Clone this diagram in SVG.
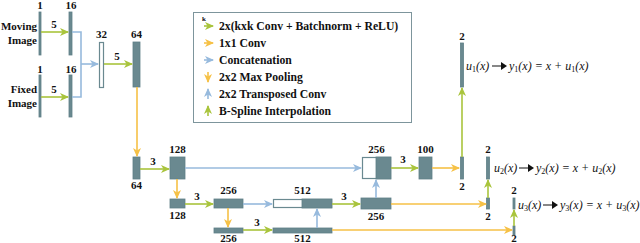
<svg xmlns="http://www.w3.org/2000/svg" width="640" height="243" viewBox="0 0 640 243">
<style>
.t{font-family:"Liberation Serif","DejaVu Serif",serif;font-weight:bold;font-size:11px;fill:#111;text-anchor:middle}
.l{font-family:"Liberation Serif","DejaVu Serif",serif;font-weight:bold;font-size:11.7px;fill:#111}
.k{font-family:"Liberation Serif","DejaVu Serif",serif;font-weight:bold;font-size:7px;fill:#111}
.side{font-family:"Liberation Serif","DejaVu Serif",serif;font-weight:bold;font-size:11px;fill:#111;text-anchor:end}
.f{font-family:"Liberation Serif","DejaVu Serif",serif;font-style:italic;font-size:12px;fill:#111}
.s{font-size:8px;font-style:normal}
.bar{fill:#6a8990;stroke:#5f7f87;stroke-width:0.8}
.open{fill:#fff;stroke:#6a8990;stroke-width:1.2}
.g{stroke:#a9c43c;stroke-width:1.6;fill:none}
.y{stroke:#f6c146;stroke-width:1.6;fill:none}
.b{stroke:#97badd;stroke-width:1.6;fill:none}
</style>
<defs>
<marker id="ag" markerUnits="userSpaceOnUse" markerWidth="9" markerHeight="8" refX="8" refY="4" orient="auto"><path d="M0,0 L9,4 L0,8 L2.5,4 Z" fill="#a9c43c"/></marker>
<marker id="ay" markerUnits="userSpaceOnUse" markerWidth="9" markerHeight="8" refX="8" refY="4" orient="auto"><path d="M0,0 L9,4 L0,8 L2.5,4 Z" fill="#f6c146"/></marker>
<marker id="ab" markerUnits="userSpaceOnUse" markerWidth="9" markerHeight="8" refX="8" refY="4" orient="auto"><path d="M0,0 L9,4 L0,8 L2.5,4 Z" fill="#97badd"/></marker>
</defs>

<g id="legend">
<rect x="193.5" y="12.5" width="218" height="110" fill="#fff" stroke="#7d959c" stroke-width="1"/>
<text class="k" x="202" y="21">k</text>
<line x1="204" y1="26" x2="213" y2="26" class="g" marker-end="url(#ag)"/>
<line x1="204" y1="43" x2="213" y2="43" class="y" marker-end="url(#ay)"/>
<line x1="204" y1="60" x2="213" y2="60" class="b" marker-end="url(#ab)"/>
<line x1="208" y1="72" x2="208" y2="82" class="y" marker-end="url(#ay)"/>
<line x1="208" y1="99" x2="208" y2="89" class="b" marker-end="url(#ab)"/>
<line x1="208" y1="116" x2="208" y2="106" class="g" marker-end="url(#ag)"/>
<text class="l" x="219" y="30">2x(kxk Conv + Batchnorm + ReLU)</text>
<text class="l" x="219" y="47">1x1 Conv</text>
<text class="l" x="219" y="64">Concatenation</text>
<text class="l" x="219" y="81">2x2 Max Pooling</text>
<text class="l" x="219" y="98">2x2 Transposed Conv</text>
<text class="l" x="219" y="115">B-Spline Interpolation</text>
</g>

<g id="inputs">
<text class="side" x="37" y="30">Moving</text>
<text class="side" x="37" y="44">Image</text>
<text class="side" x="37" y="93">Fixed</text>
<text class="side" x="37" y="107">Image</text>
</g>

<g id="moving1"><rect class="bar" x="39" y="12" width="2" height="43"/><text class="t" x="40" y="9">1</text></g>
<g id="moving16"><rect class="bar" x="69" y="12" width="3" height="43"/><text class="t" x="71" y="9">16</text></g>
<g id="fixed1"><rect class="bar" x="39" y="75" width="2" height="42"/><text class="t" x="40" y="73">1</text></g>
<g id="fixed16"><rect class="bar" x="69" y="75" width="3" height="42"/><text class="t" x="71" y="73">16</text></g>
<g id="concat32"><rect class="open" x="99.5" y="42.5" width="4" height="45"/><text class="t" x="101.5" y="38">32</text></g>
<g id="enc64"><rect class="bar" x="133" y="42" width="7" height="45"/><text class="t" x="136.5" y="38">64</text></g>
<g id="pool64"><rect class="bar" x="133" y="157" width="7" height="22"/><text class="t" x="136.5" y="189">64</text></g>
<g id="enc128"><rect class="bar" x="170" y="157" width="15" height="22"/><text class="t" x="177.5" y="153">128</text></g>
<g id="dec256"><rect class="open" x="362.5" y="157.5" width="28" height="21"/><rect class="bar" x="376" y="157" width="15" height="22"/><text class="t" x="376.5" y="153">256</text></g>
<g id="dec100"><rect class="bar" x="419" y="157" width="13" height="22"/><text class="t" x="425.5" y="153">100</text></g>
<g id="out1a"><rect class="bar" x="460.5" y="157" width="3" height="22"/><text class="t" x="462" y="190">2</text></g>
<g id="out1b"><rect class="bar" x="460.5" y="43" width="3" height="44"/><text class="t" x="462" y="40">2</text></g>
<g id="pool128"><rect class="bar" x="170" y="199" width="15" height="9"/><text class="t" x="177.5" y="219">128</text></g>
<g id="enc256"><rect class="bar" x="214" y="199" width="29" height="9"/><text class="t" x="228.5" y="194">256</text></g>
<g id="dec512"><rect class="open" x="273.5" y="199.5" width="58" height="8"/><rect class="bar" x="302" y="199" width="30" height="9"/><text class="t" x="302.5" y="194">512</text></g>
<g id="dec256b"><rect class="bar" x="361" y="198" width="30" height="11"/><text class="t" x="376" y="220">256</text></g>
<g id="out2a"><rect class="bar" x="486.5" y="198" width="3" height="11"/><text class="t" x="488" y="220">2</text></g>
<g id="out2b"><rect class="bar" x="486.5" y="157" width="3" height="22"/><text class="t" x="488" y="153">2</text></g>
<g id="pool256"><rect class="bar" x="214" y="228" width="29" height="5"/><text class="t" x="228.5" y="242">256</text></g>
<g id="enc512"><rect class="bar" x="273" y="228" width="59" height="5"/><text class="t" x="302.5" y="242">512</text></g>
<g id="out3a"><rect class="bar" x="513" y="226" width="2" height="9"/><text class="t" x="514" y="242">2</text></g>
<g id="out3b"><rect class="bar" x="513" y="198" width="2" height="11"/><text class="t" x="514" y="194">2</text></g>

<g id="formulas">
<text class="f" x="466" y="70">u<tspan class="s" dy="2">1</tspan><tspan dy="-2">(x)</tspan></text>
<path d="M492,65.5 H501 V62 L507,66 L501,70 V66.5 H492 Z" fill="#111"/>
<text class="f" x="509" y="70">y<tspan class="s" dy="2">1</tspan><tspan dy="-2">(x) = x + u</tspan><tspan class="s" dy="2">1</tspan><tspan dy="-2">(x)</tspan></text>
<text class="f" x="494" y="172">u<tspan class="s" dy="2">2</tspan><tspan dy="-2">(x)</tspan></text>
<path d="M519,167.5 H528 V164 L534,168 L528,172 V168.5 H519 Z" fill="#111"/>
<text class="f" x="536" y="172">y<tspan class="s" dy="2">2</tspan><tspan dy="-2">(x) = x + u</tspan><tspan class="s" dy="2">2</tspan><tspan dy="-2">(x)</tspan></text>
<text class="f" x="518" y="209">u<tspan class="s" dy="2">3</tspan><tspan dy="-2">(x)</tspan></text>
<path d="M543,204.5 H552 V201 L558,205 L552,209 V205.5 H543 Z" fill="#111"/>
<text class="f" x="560" y="209">y<tspan class="s" dy="2">3</tspan><tspan dy="-2">(x) = x + u</tspan><tspan class="s" dy="2">3</tspan><tspan dy="-2">(x)</tspan></text>
</g>

<g id="connectors">
<line x1="41" y1="32" x2="68" y2="32" class="g" marker-end="url(#ag)"/>
<line x1="41" y1="97" x2="68" y2="97" class="g" marker-end="url(#ag)"/>
<path d="M72,32 H81 V97 H72" class="b"/>
<line x1="81" y1="64" x2="98" y2="64" class="b" marker-end="url(#ab)"/>
<line x1="104" y1="64" x2="132" y2="64" class="g" marker-end="url(#ag)"/>
<line x1="137" y1="87" x2="137" y2="156" class="y" marker-end="url(#ay)"/>
<line x1="140" y1="169" x2="169" y2="169" class="g" marker-end="url(#ag)"/>
<line x1="185" y1="168" x2="361" y2="168" class="b" marker-end="url(#ab)"/>
<line x1="391" y1="168" x2="418" y2="168" class="g" marker-end="url(#ag)"/>
<line x1="432" y1="168" x2="459" y2="168" class="y" marker-end="url(#ay)"/>
<line x1="462" y1="157" x2="462" y2="88" class="g" marker-end="url(#ag)"/>
<line x1="177" y1="179" x2="177" y2="198" class="y" marker-end="url(#ay)"/>
<line x1="185" y1="204" x2="213" y2="204" class="g" marker-end="url(#ag)"/>
<line x1="243" y1="204" x2="272" y2="204" class="b" marker-end="url(#ab)"/>
<line x1="332" y1="204" x2="360" y2="204" class="g" marker-end="url(#ag)"/>
<line x1="376" y1="198" x2="376" y2="180" class="b" marker-end="url(#ab)"/>
<line x1="391" y1="204" x2="486" y2="204" class="y" marker-end="url(#ay)"/>
<line x1="488" y1="198" x2="488" y2="180" class="g" marker-end="url(#ag)"/>
<line x1="228" y1="208" x2="228" y2="227" class="y" marker-end="url(#ay)"/>
<line x1="243" y1="230" x2="272" y2="230" class="g" marker-end="url(#ag)"/>
<line x1="317" y1="228" x2="317" y2="209" class="b" marker-end="url(#ab)"/>
<line x1="332" y1="230" x2="512" y2="230" class="y" marker-end="url(#ay)"/>
<line x1="514" y1="226" x2="514" y2="210" class="g" marker-end="url(#ag)"/>
<text class="t" x="54" y="28">5</text>
<text class="t" x="54" y="93">5</text>
<text class="t" x="117" y="60">5</text>
<text class="t" x="153" y="165">3</text>
<text class="t" x="403" y="163">3</text>
<text class="t" x="197" y="200">3</text>
<text class="t" x="344" y="200">3</text>
<text class="t" x="257" y="226">3</text>
</g>
</svg>
